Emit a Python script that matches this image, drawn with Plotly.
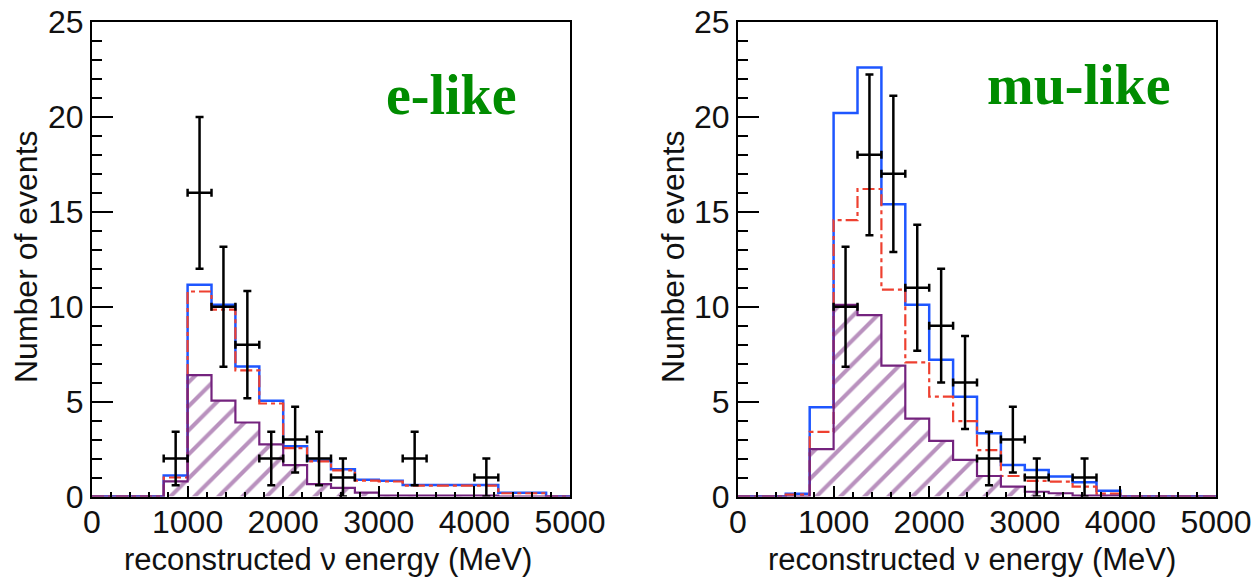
import plotly.graph_objects as go

# ---------------- data ----------------
BIN_EDGES = [0, 250, 500, 750, 1000, 1250, 1500, 1750, 2000, 2250, 2500,
             2750, 3000, 3250, 3500, 3750, 4000, 4250, 4500, 4750, 5000]

# e-like panel
E_TOTAL = [0, 0, 0, 1.1, 11.15, 10.1, 6.85, 5.05, 2.65, 1.9, 1.43, 0.88, 0.83,
           0.6, 0.6, 0.6, 0.6, 0.2, 0.2, 0]
E_RED = [0, 0, 0, 1.0, 10.8, 9.85, 6.65, 4.9, 2.55, 1.85, 1.38, 0.84, 0.79,
         0.57, 0.57, 0.57, 0.57, 0.17, 0.17, 0]
E_BKG = [0, 0, 0, 0.8, 6.4, 5.05, 3.9, 2.75, 1.65, 0.65, 0.45, 0.2, 0.05,
         0.05, 0.05, 0.05, 0.05, 0, 0, 0]
E_DATA_X = [875, 1125, 1375, 1625, 1875, 2125, 2375, 2625, 3375, 4125]
E_DATA_Y = [2, 16, 10, 8, 2, 3, 2, 1, 2, 1]
E_DATA_ERR = [1.41, 4, 3.16, 2.83, 1.41, 1.73, 1.41, 1, 1.41, 1]

# mu-like panel
M_TOTAL = [0, 0, 0.15, 4.7, 20.2, 22.6, 15.4, 10.1, 7.2, 5.25, 3.33, 1.66, 1.4,
           1.05, 0.75, 0.3, 0, 0, 0, 0]
M_RED = [0, 0, 0.1, 3.4, 14.56, 16.2, 10.9, 7.07, 5.26, 3.97, 2.44, 1.08, 0.82,
         0.78, 0.52, 0.15, 0, 0, 0, 0]
M_BKG = [0, 0, 0, 2.5, 10.1, 9.56, 6.9, 4.1, 2.93, 1.93, 1.08, 0.52, 0.25,
         0.17, 0.05, 0.05, 0, 0, 0, 0]
M_DATA_X = [1125, 1375, 1625, 1875, 2125, 2375, 2625, 2875, 3125, 3625]
M_DATA_Y = [10, 18, 17, 11, 9, 6, 2, 3, 1, 1]
M_DATA_ERR = [3.16, 4.24, 4.12, 3.32, 3, 2.45, 1.41, 1.73, 1, 1]

HALF_BIN = 125
X_TICKS = [0, 1000, 2000, 3000, 4000, 5000]
Y_TICKS = [0, 5, 10, 15, 20, 25]
PANEL_LABELS = ["e-like", "mu-like"]
X_TITLE = "reconstructed ν energy (MeV)"
Y_TITLE = "Number of events"

# ---------------- style ----------------
W, H = 1256, 577
BLUE = "#1E56FF"
RED = "#EE4030"
PURPLE = "#74237E"
GREEN = "#008C00"
FONT = "Liberation Sans, Arial, sans-serif"

fig = go.Figure()


def step(vals):
    return vals + [vals[-1]]


panels = [
    ("x", "y", E_TOTAL, E_RED, E_BKG, E_DATA_X, E_DATA_Y, E_DATA_ERR),
    ("x2", "y2", M_TOTAL, M_RED, M_BKG, M_DATA_X, M_DATA_Y, M_DATA_ERR),
]
for xa, ya, tot, red, bkg, dx, dy, de in panels:
    fig.add_trace(go.Scatter(x=BIN_EDGES, y=step(tot), mode="lines",
                             line=dict(shape="hv", color=BLUE, width=2.5),
                             xaxis=xa, yaxis=ya, showlegend=False))
    fig.add_trace(go.Scatter(x=BIN_EDGES, y=step(red), mode="lines",
                             line=dict(shape="hv", color=RED, width=2.2,
                                       dash="12px,4px,4px,4px"),
                             xaxis=xa, yaxis=ya, showlegend=False))
    fig.add_trace(go.Scatter(x=BIN_EDGES, y=step(bkg), mode="lines",
                             line=dict(shape="hv", color=PURPLE, width=2.2),
                             fill="tozeroy", fillcolor="rgba(255,255,255,0)",
                             fillpattern=dict(shape="/", fgcolor=PURPLE,
                                              bgcolor="rgba(255,255,255,0)",
                                              size=17, solidity=0.24),
                             xaxis=xa, yaxis=ya, showlegend=False))
    fig.add_trace(go.Scatter(x=dx, y=dy, mode="markers",
                             marker=dict(size=2, color="black"),
                             error_y=dict(type="data", array=de, color="black",
                                          thickness=2.5, width=4),
                             error_x=dict(type="constant", value=HALF_BIN,
                                          color="black", thickness=2.5, width=4),
                             xaxis=xa, yaxis=ya, showlegend=False))

x_dom = [[92 / W, 570 / W], [738 / W, 1216 / W]]
y_dom = [(577 - 496.5) / H, (577 - 22) / H]

axis_common = dict(showgrid=False, zeroline=False, showline=True, linecolor="black",
                   linewidth=2, mirror=True, ticks="inside", tickcolor="black",
                   tickwidth=2, automargin=False,
                   tickfont=dict(family=FONT, size=32, color="#111"))

for i, (xk, yk) in enumerate([("xaxis", "yaxis"), ("xaxis2", "yaxis2")]):
    anchor_y = "y" if i == 0 else "y2"
    anchor_x = "x" if i == 0 else "x2"
    fig.layout[xk] = dict(domain=x_dom[i], anchor=anchor_y, range=[0, 5000],
                          tickvals=X_TICKS, ticklen=11, ticklabelstandoff=-4,
                          minor=dict(ticks="inside", dtick=200, tick0=0, ticklen=5,
                                     tickwidth=2, tickcolor="black"),
                          **axis_common)
    fig.layout[yk] = dict(domain=y_dom, anchor=anchor_x, range=[0, 25],
                          tickvals=Y_TICKS, ticklen=21,
                          minor=dict(ticks="inside", dtick=1, tick0=0, ticklen=10,
                                     tickwidth=2, tickcolor="black"),
                          **axis_common)

annotations = []
# y titles
for xc in [26, 673]:
    annotations.append(dict(text=Y_TITLE, x=xc / W, y=1 - 257 / H, xref="paper",
                            yref="paper", showarrow=False, textangle=-90,
                            xanchor="center", yanchor="middle",
                            font=dict(family=FONT, size=32, color="#111")))
# x titles
for xc in [328, 972]:
    annotations.append(dict(text=X_TITLE, x=xc / W, y=1 - 559 / H, xref="paper",
                            yref="paper", showarrow=False,
                            xanchor="center", yanchor="middle",
                            font=dict(family=FONT, size=31, color="#111")))
# panel labels
for (xc, yc), lab in zip([(451, 95), (1079, 85)], PANEL_LABELS):
    annotations.append(dict(text="<b>" + lab + "</b>", x=xc / W, y=1 - yc / H,
                            xref="paper", yref="paper", showarrow=False,
                            xanchor="center", yanchor="middle",
                            font=dict(family="Liberation Serif, Times New Roman, serif",
                                      size=56, color=GREEN)))

fig.update_layout(width=W, height=H, margin=dict(l=0, r=0, t=0, b=0, autoexpand=False),
                  paper_bgcolor="white", plot_bgcolor="white",
                  annotations=annotations, showlegend=False)

fig.write_html("out.html")
